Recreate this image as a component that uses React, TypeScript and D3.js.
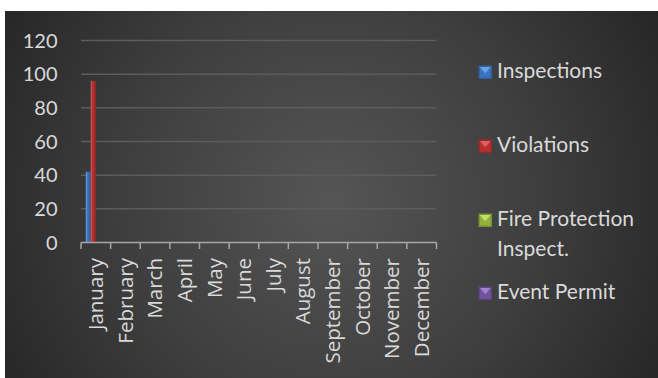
import React from "react";
import * as d3 from "d3";

const months = ["January","February","March","April","May","June","July","August","September","October","November","December"];
const seriesNames = ["Inspections","Violations","Fire Protection Inspect.","Event Permit"];
const legendLines = [["Inspections"],["Violations"],["Fire Protection","Inspect."],["Event Permit"]];
const inspections = [42,0,0,0,0,0,0,0,0,0,0,0];
const violations = [96,0,0,0,0,0,0,0,0,0,0,0];
const fireProtection = [0,0,0,0,0,0,0,0,0,0,0,0];
const eventPermit = [0,0,0,0,0,0,0,0,0,0,0,0];
const yTicks = [0,20,40,60,80,100,120];
const colors = ["#3b74c0","#b83030","#93b13c","#71539e"];
const lightColors = ["#6fa3e6","#e06060","#c3e06a","#a283cf"];

const W = 658, H = 378;

export default function App() {
  const data = [inspections, violations, fireProtection, eventPermit];
  const x = d3.scaleBand<string>().domain(months).range([81, 436.5]).padding(0);
  const x1 = d3.scaleBand<string>().domain(seriesNames).range([0, x.bandwidth()]).paddingInner(0).paddingOuter(0.96);
  const y = d3.scaleLinear().domain([0, 120]).range([242.5, 40.5]);
  const legendBaselines = [[78],[152],[226,256],[299]];
  const tickXs = months.map((m) => x(m)!).concat([x.range()[1]]);

  return (
    <div style={{ position: "fixed", left: 0, top: 0 }}>
      <svg width={W} height={H} style={{ display: "block" }}>
        <defs>
          <radialGradient id="bg" cx="330" cy="200" r="380" gradientUnits="userSpaceOnUse">
            <stop offset="0" stopColor="#555555" />
            <stop offset="0.55" stopColor="#3e3e3e" />
            <stop offset="1" stopColor="#262626" />
          </radialGradient>
          {colors.map((c, i) => (
            <linearGradient key={i} id={`bar${i}`} x1="0" x2="1" y1="0" y2="0">
              <stop offset="0" stopColor={lightColors[i]} />
              <stop offset="0.35" stopColor={c} />
              <stop offset="1" stopColor={d3.color(c)!.darker(0.6).formatHex()} />
            </linearGradient>
          ))}
        </defs>
        <rect x={0} y={0} width={W} height={H} fill="#ffffff" />
        <rect x={5} y={11} width={W - 5} height={H - 11} fill="url(#bg)" />
        {yTicks.filter((t) => t > 0).map((t) => (
          <line key={t} x1={81} x2={436.5} y1={y(t)} y2={y(t)} stroke="#5c5c5c" strokeWidth={1.5} />
        ))}
        {yTicks.map((t) => (
          <text key={t} x={57.5} y={y(t)} dy="0.36em" textAnchor="end" fill="#d9d9d9"
            fontFamily="Lato, 'Open Sans', sans-serif" fontSize={20}>{t}</text>
        ))}
        {data.map((vals, si) =>
          vals.map((v, mi) => {
            if (v <= 0) return null;
            const bx = x(months[mi])! + x1(seriesNames[si])!;
            return (
              <rect key={`${si}-${mi}`} x={bx} y={y(v)} width={x1.bandwidth()} height={y(0) - y(v)}
                fill={`url(#bar${si})`} />
            );
          })
        )}
        <line x1={81} x2={436.5} y1={y(0)} y2={y(0)} stroke="#a6a6a6" strokeWidth={1.5} />
        {tickXs.map((tx, i) => (
          <line key={i} x1={tx} x2={tx} y1={y(0)} y2={y(0) + 6.5} stroke="#a6a6a6" strokeWidth={1.5} />
        ))}
        {months.map((m) => {
          const cx = x(m)! + x.bandwidth() / 2;
          return (
            <text key={m} transform={`translate(${cx},258) rotate(-90)`} dy="0.35em" textAnchor="end"
              fill="#d9d9d9" fontFamily="'Open Sans', sans-serif" fontSize={20.5}>{m}</text>
          );
        })}
        {legendLines.map((lines, i) => {
          const by = legendBaselines[i][0];
          const mx = 478.5, my = by - 12.5, ms = 13.5;
          return (
            <g key={i}>
              <rect x={mx} y={my} width={ms} height={ms} fill={d3.color(colors[i])!.darker(0.5).formatHex()} />
              <rect x={mx + 1.5} y={my + 1.5} width={ms - 3} height={ms - 3} fill={colors[i]} />
              <path d={`M${mx + 1.5},${my + 1.5}L${mx + ms - 1.5},${my + 1.5}L${mx + ms / 2},${my + ms / 2 + 1}Z`} fill={lightColors[i]} />
              {lines.map((ln, j) => (
                <text key={j} x={497} y={legendBaselines[i][j]} fill="#d9d9d9"
                  fontFamily="Lato, 'Open Sans', sans-serif" fontSize={21}>{ln}</text>
              ))}
            </g>
          );
        })}
      </svg>
    </div>
  );
}
